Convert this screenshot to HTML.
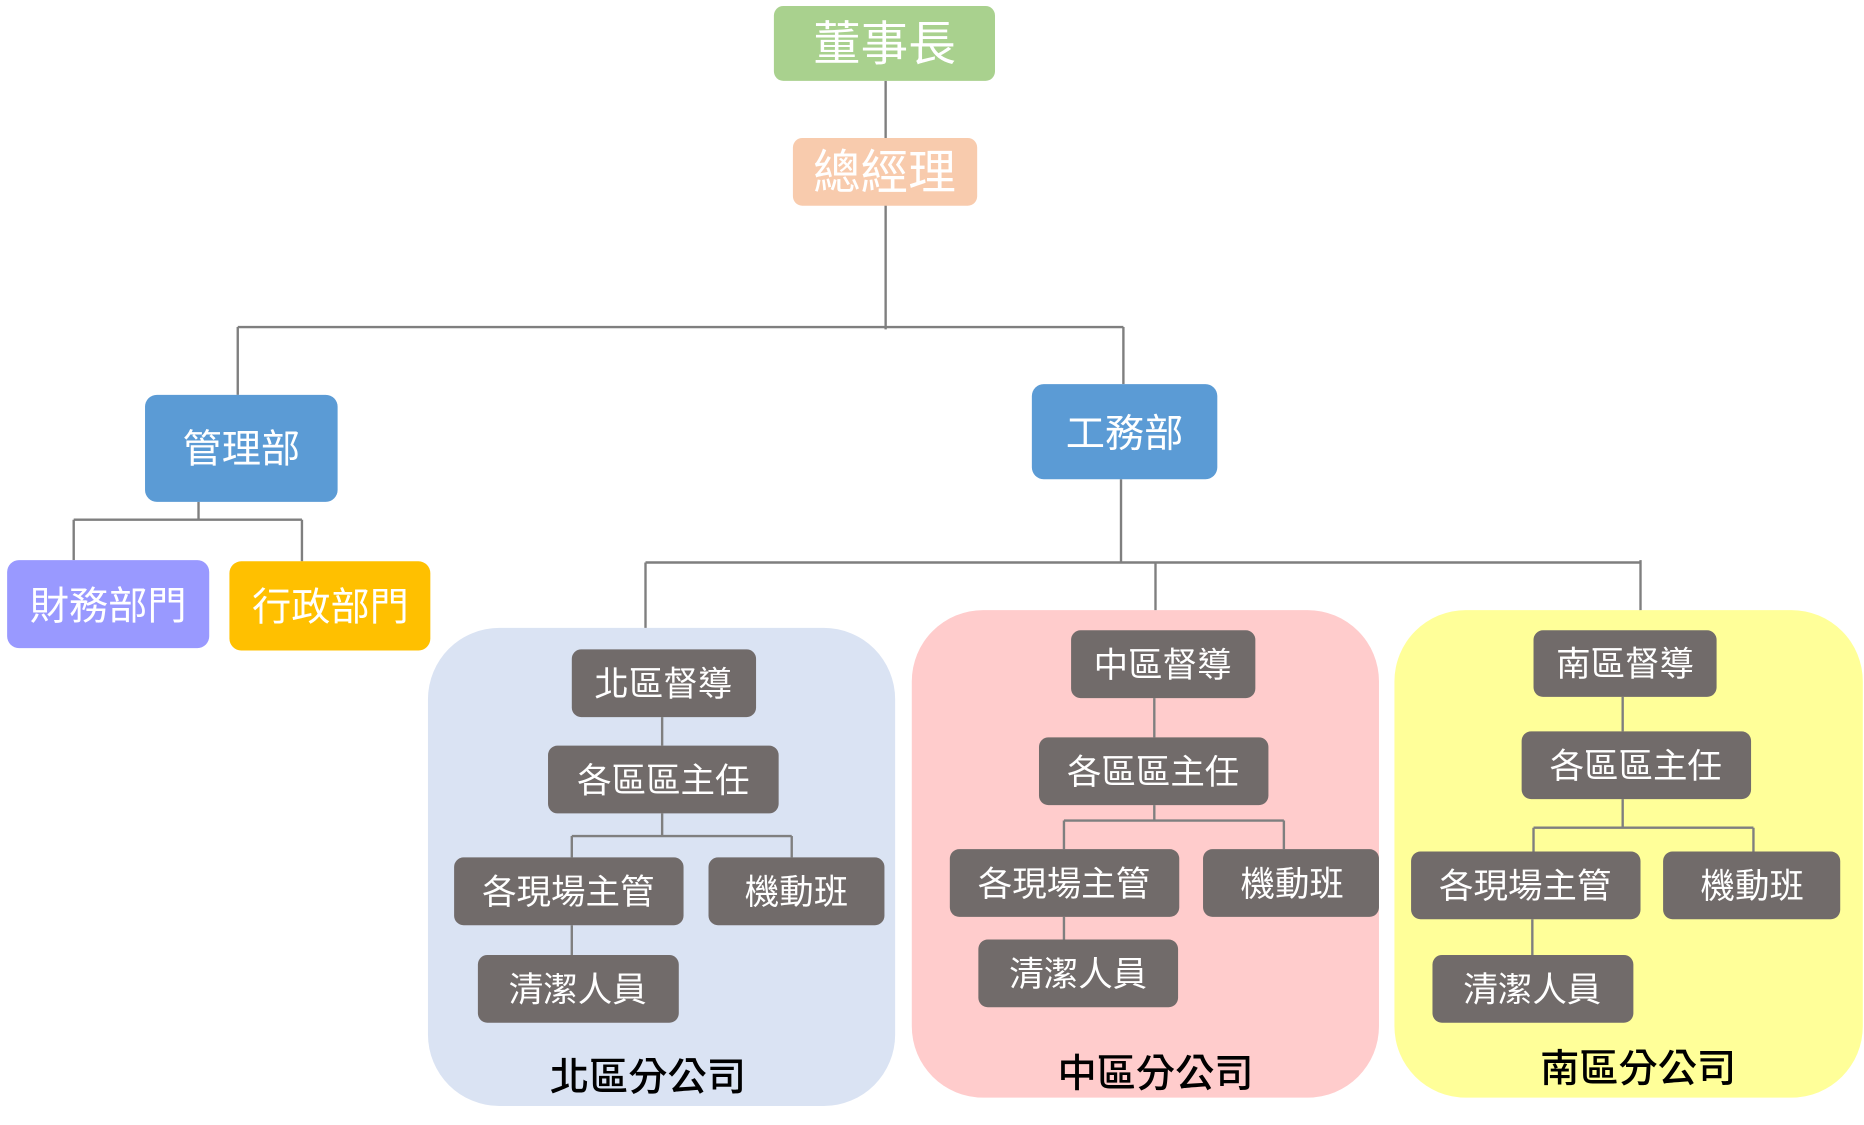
<!DOCTYPE html>
<html><head><meta charset="utf-8"><style>
html,body{margin:0;padding:0;background:#fff;}
svg{display:block}
text{font-family:"Liberation Sans","Noto Sans CJK TC",sans-serif;text-anchor:middle;dominant-baseline:central;}
.g{fill:#716b6a}
.w{fill:#fff;font-size:29px}
.l{stroke:#7f7f7f;stroke-width:2;fill:none}
.b{fill:#000;font-size:33px;font-weight:500}
</style></head><body>
<svg width="1864" height="1125" viewBox="0 0 1568 946" preserveAspectRatio="none">
<rect x="360" y="528" width="393" height="402" rx="60" fill="#dae3f3"/>
<rect x="767" y="513" width="393" height="410" rx="60" fill="#ffcccc"/>
<rect x="1173" y="513" width="394" height="410" rx="60" fill="#ffff99"/>
<path class="l" d="M745 68V277M200 275H945M200 275V332M945 275V323"/>
<path class="l" d="M167 422V437M62 437H254M62 437V471M254 437V472"/>
<path class="l" d="M943 403V472M543 473H1380M543 473V528M972 472V513M1380 471V513"/>
<path class="l" d="M557 603V627M557 684V703M481 703H666M481 703V721M666 703V721M481 778V803"/>
<path class="l" d="M971 587V620M971 677V690M895 690H1080M895 690V714M1080 690V714M895 771V790"/>
<path class="l" d="M1365 586V615M1365 672V696M1290 696H1475M1290 696V716M1475 696V716M1289 773V803"/>
<rect x="651" y="5" width="186" height="63" rx="8" fill="#a9d18e"/>
<text x="744" y="38" fill="#fff" font-size="40">董事長</text>
<rect x="667" y="116" width="155" height="57" rx="8" fill="#f8cbad"/>
<text x="744" y="146" fill="#fff" font-size="40">總經理</text>
<rect x="122" y="332" width="162" height="90" rx="10" fill="#5b9bd5"/>
<text x="203" y="378" fill="#fff" font-size="33">管理部</text>
<rect x="868" y="323" width="156" height="80" rx="10" fill="#5b9bd5"/>
<text x="946" y="365" fill="#fff" font-size="33">工務部</text>
<rect x="6" y="471" width="170" height="74" rx="10" fill="#9999ff"/>
<text x="91" y="510" fill="#fff" font-size="33">財務部門</text>
<rect x="193" y="472" width="169" height="75" rx="10" fill="#ffc000"/>
<text x="278" y="511" fill="#fff" font-size="33">行政部門</text>
<rect class="g" x="481" y="546" width="155" height="57" rx="8"/><text class="w" x="558" y="576">北區督導</text>
<rect class="g" x="461" y="627" width="194" height="57" rx="8"/><text class="w" x="558" y="657">各區區主任</text>
<rect class="g" x="382" y="721" width="193" height="57" rx="8"/><text class="w" x="478" y="751">各現場主管</text>
<rect class="g" x="596" y="721" width="148" height="57" rx="8"/><text class="w" x="670" y="751">機動班</text>
<rect class="g" x="402" y="803" width="169" height="57" rx="8"/><text class="w" x="486" y="833">清潔人員</text>
<text class="b" x="545" y="906">北區分公司</text>
<rect class="g" x="901" y="530" width="155" height="57" rx="8"/><text class="w" x="978" y="560">中區督導</text>
<rect class="g" x="874" y="620" width="193" height="57" rx="8"/><text class="w" x="970" y="650">各區區主任</text>
<rect class="g" x="799" y="714" width="193" height="57" rx="8"/><text class="w" x="895" y="744">各現場主管</text>
<rect class="g" x="1012" y="714" width="148" height="57" rx="8"/><text class="w" x="1087" y="744">機動班</text>
<rect class="g" x="823" y="790" width="168" height="57" rx="8"/><text class="w" x="907" y="820">清潔人員</text>
<text class="b" x="972" y="903">中區分公司</text>
<rect class="g" x="1290" y="530" width="154" height="56" rx="8"/><text class="w" x="1367" y="559">南區督導</text>
<rect class="g" x="1280" y="615" width="193" height="57" rx="8"/><text class="w" x="1376" y="645">各區區主任</text>
<rect class="g" x="1187" y="716" width="193" height="57" rx="8"/><text class="w" x="1283" y="746">各現場主管</text>
<rect class="g" x="1399" y="716" width="149" height="57" rx="8"/><text class="w" x="1474" y="746">機動班</text>
<rect class="g" x="1205" y="803" width="169" height="57" rx="8"/><text class="w" x="1289" y="833">清潔人員</text>
<text class="b" x="1378" y="899">南區分公司</text>
</svg>
</body></html>
